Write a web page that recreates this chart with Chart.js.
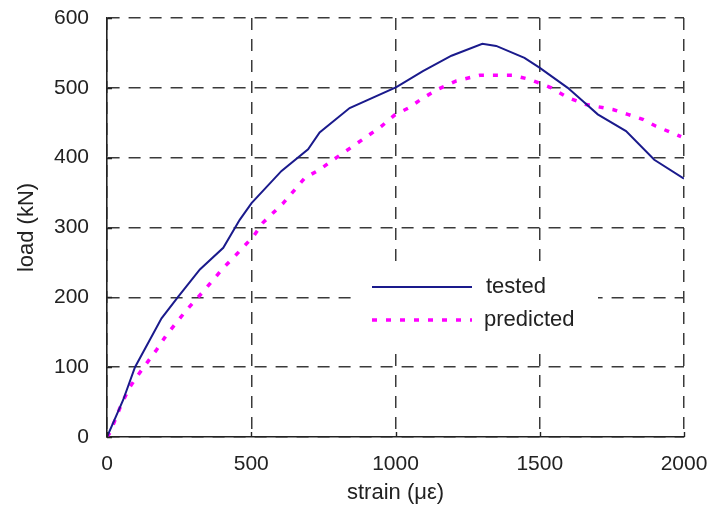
<!DOCTYPE html>
<html>
<head>
<meta charset="utf-8">
<script src="https://cdn.jsdelivr.net/npm/chart.js@4.4.1/dist/chart.umd.min.js"></script>
<style>
  body { margin: 0; background: #fff; }
  #wrap { width: 713px; height: 514px; }
</style>
</head>
<body>
<div id="wrap"><canvas id="loadChart"></canvas></div>
<script>
// strain (microstrain) / load (kN)
const testedStrain = [0, 56, 97, 189, 247, 322, 403, 460, 501, 605, 697, 737, 841, 1003, 1095, 1194, 1301, 1349, 1447, 1499, 1597, 1649, 1701, 1799, 1897, 2000];
const testedLoad   = [0, 53, 100, 170, 201, 240, 271, 311, 335, 381, 412, 436, 471, 501, 524, 546, 563, 560, 543, 529, 500, 481, 462, 438, 397, 370];

const predictedStrain = [0, 10, 51, 80, 108, 172, 206, 276, 333, 403, 443, 507, 541, 611, 686, 737, 795, 893, 951, 997, 1049, 1090, 1147, 1211, 1292, 1407, 1465, 1540, 1597, 1661, 1753, 1805, 1857, 1903, 1961, 1990];
const predictedLoad   = [0, 6, 48, 72, 89, 125, 146, 182, 208, 242, 259, 287, 307, 335, 371, 383, 400, 428, 445, 461, 472, 484, 498, 510, 518, 518, 512, 500, 486, 476, 469, 462, 455, 445, 435, 430];

const seriesLabels = ['tested', 'predicted'];
const xTicks = [0, 500, 1000, 1500, 2000];
const yTicks = [0, 100, 200, 300, 400, 500, 600];

const FONT = "'Liberation Sans', Arial, Helvetica, sans-serif";
const TEXT = '#222';

const toPoints = (xs, ys) => xs.map((x, i) => ({ x: x, y: ys[i] }));

// legend sits inside the plot over a white box, plus small inward ticks
const innerBits = {
  id: 'innerBits',
  afterDraw(chart) {
    const ctx = chart.ctx;
    const area = chart.chartArea;
    const xs = chart.scales.x, ys = chart.scales.y;
    ctx.save();
    ctx.strokeStyle = '#222';
    ctx.lineWidth = 1.4;
    ctx.beginPath();
    xTicks.forEach(v => {
      const px = Math.round(xs.getPixelForValue(v)) + 0.5;
      ctx.moveTo(px, area.bottom);
      ctx.lineTo(px, area.bottom - 5);
    });
    yTicks.forEach(v => {
      const py = Math.round(ys.getPixelForValue(v)) + 0.5;
      ctx.moveTo(area.left, py);
      ctx.lineTo(area.left + 5, py);
    });
    ctx.stroke();

    // legend
    ctx.fillStyle = '#fff';
    ctx.fillRect(356, 265, 242, 82);
    const ds = chart.data.datasets;
    const rows = [287, 320];
    ds.forEach((d, i) => {
      ctx.strokeStyle = d.borderColor;
      ctx.lineWidth = d.borderWidth;
      ctx.setLineDash(d.borderDash || []);
      ctx.beginPath();
      ctx.moveTo(372, rows[i]);
      ctx.lineTo(472, rows[i]);
      ctx.stroke();
      ctx.setLineDash([]);
      ctx.fillStyle = TEXT;
      ctx.font = '22px ' + FONT;
      ctx.textBaseline = 'middle';
      ctx.fillText(d.label, i === 0 ? 486 : 484, rows[i]);
    });
    ctx.restore();
  }
};

const ctx = document.getElementById('loadChart').getContext('2d');
const loadChart = new Chart(ctx, {
  type: 'line',
  data: {
    datasets: [{
      label: seriesLabels[0],
      data: toPoints(testedStrain, testedLoad),
      borderColor: '#1a1a8c',
      borderWidth: 2,
      pointRadius: 0,
      tension: 0,
      fill: false
    }, {
      label: seriesLabels[1],
      data: toPoints(predictedStrain, predictedLoad),
      borderColor: '#ff00ff',
      borderWidth: 3.5,
      borderDash: [5, 9],
      pointRadius: 0,
      tension: 0,
      fill: false
    }]
  },
  options: {
    responsive: true,
    maintainAspectRatio: false,
    animation: false,
    layout: { padding: { top: 18, right: 29, left: 0, bottom: 0 } },
    plugins: {
      legend: { display: false },
      tooltip: { enabled: false }
    },
    scales: {
      x: {
        type: 'linear',
        min: 0,
        max: 2000,
        afterFit: (scale) => {
          scale.height = 77;
          scale.paddingLeft = 0;
          scale.paddingRight = 0;
        },
        afterBuildTicks: (scale) => { scale.ticks = xTicks.map(v => ({ value: v })); },
        grid: { color: '#3a3a3a', lineWidth: 1.5, drawTicks: false },
        border: { color: '#222', width: 1.6, dash: [12, 9] },
        ticks: {
          color: TEXT,
          padding: 15,
          maxRotation: 0,
          callback: (v) => String(v),
          font: { family: FONT, size: 21 }
        },
        title: {
          display: true,
          text: 'strain (με)',
          color: TEXT,
          padding: { top: 0, bottom: 8 },
          font: { family: FONT, size: 22 }
        }
      },
      y: {
        type: 'linear',
        min: 0,
        max: 600,
        afterFit: (scale) => {
          scale.width = 107;
          scale.paddingTop = 0;
          scale.paddingBottom = 0;
        },
        afterBuildTicks: (scale) => { scale.ticks = yTicks.map(v => ({ value: v })); },
        grid: { color: '#3a3a3a', lineWidth: 1.5, drawTicks: false },
        border: { color: '#222', width: 1.6, dash: [12, 9] },
        ticks: {
          color: TEXT,
          padding: 18,
          callback: (v) => String(v),
          font: { family: FONT, size: 21 }
        },
        title: {
          display: true,
          text: 'load (kN)',
          color: TEXT,
          padding: { top: 14, bottom: 0 },
          font: { family: FONT, size: 22 }
        }
      }
    }
  },
  plugins: [innerBits]
});
</script>
</body>
</html>
